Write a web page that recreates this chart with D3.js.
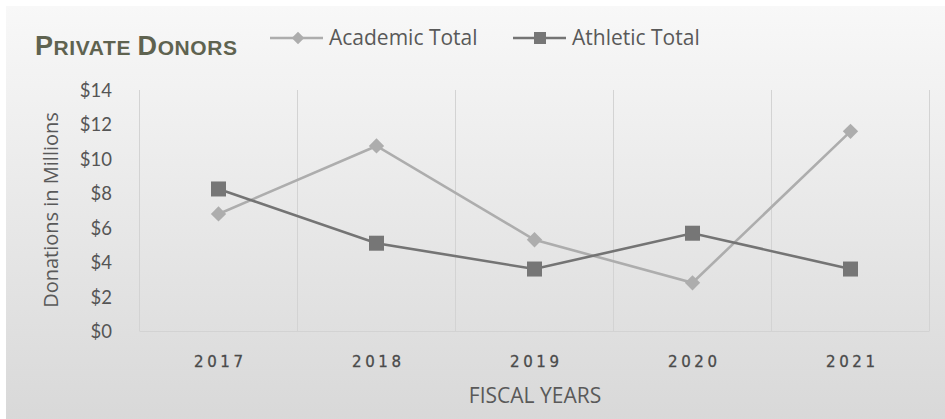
<!DOCTYPE html>
<html><head><meta charset="utf-8">
<script src="https://cdn.jsdelivr.net/npm/d3@7"></script>
<style>body{margin:0;background:#fff}svg{display:block}</style>
</head><body>
<svg id="c" width="945" height="419"></svg>
<script>
const years = ["2017","2018","2019","2020","2021"];
const academic = [6.8, 10.75, 5.3, 2.8, 11.6];
const athletic = [8.25, 5.1, 3.6, 5.68, 3.6];
const yTicks = [0,2,4,6,8,10,12,14];

const svg = d3.select("#c");
const defs = svg.append("defs");
const g = defs.append("linearGradient").attr("id","bg").attr("x1",0).attr("y1",0).attr("x2",0).attr("y2",1);
g.append("stop").attr("offset","0%").attr("stop-color","#f8f8f8");
g.append("stop").attr("offset","100%").attr("stop-color","#d8d8d8");
svg.append("rect").attr("x",6).attr("y",6).attr("width",945).attr("height",420).attr("fill","url(#bg)");

const x = d3.scaleBand().domain(years).range([139.5,929.5]);
const y = d3.scaleLinear().domain([0,14]).range([331,90]);

// vertical gridlines at band boundaries
const bounds = years.map(d=>x(d)).concat([x.range()[1]]);
svg.append("g").selectAll("line").data(bounds).join("line")
  .attr("x1",d=>d).attr("x2",d=>d).attr("y1",y(14)).attr("y2",y(0))
  .attr("stroke","#d3d3d3").attr("stroke-width",1);
svg.append("line").attr("x1",x.range()[0]).attr("x2",x.range()[1]).attr("y1",y(0)+0.5).attr("y2",y(0)+0.5)
  .attr("stroke","#d3d3d3");

// y axis labels
const yAxis = d3.axisLeft(y).tickValues(yTicks).tickFormat(d=>"$"+d).tickSize(0).tickPadding(0);
const ya = svg.append("g").attr("transform","translate(112,0)").call(yAxis);
ya.select(".domain").remove();
ya.selectAll("text").attr("font-family","Lato").attr("font-size",18.5).attr("fill","#555").attr("dy","0.35em");

// x axis labels
const xAxis = d3.axisBottom(x).tickSize(0).tickPadding(0);
const xa = svg.append("g").attr("transform","translate(0,362)").call(xAxis);
xa.select(".domain").remove();
xa.selectAll("text").attr("font-family","DejaVu Sans").attr("font-size",15)
  .attr("letter-spacing","3.6px").attr("fill","#4a4a4a").attr("stroke","#4a4a4a").attr("stroke-width",0.3)
  .attr("dy","0.35em").attr("dx","1.8px");

const cx = d => x(d) + x.bandwidth()/2;
const line = d3.line().x((d,i)=>cx(years[i])).y(d=>y(d));

// Academic
svg.append("path").datum(academic).attr("d",line).attr("fill","none").attr("stroke","#adadad").attr("stroke-width",2.6);
svg.append("g").selectAll("path").data(academic).join("path")
  .attr("d",d3.symbol().type(d3.symbolDiamond2).size(150))
  .attr("transform",(d,i)=>`translate(${cx(years[i])},${y(d)})`)
  .attr("fill","#adadad");
// Athletic
svg.append("path").datum(athletic).attr("d",line).attr("fill","none").attr("stroke","#747474").attr("stroke-width",2.6);
svg.append("g").selectAll("rect").data(athletic).join("rect")
  .attr("x",(d,i)=>cx(years[i])-7.5).attr("y",d=>y(d)-7.5).attr("width",15).attr("height",15)
  .attr("fill","#767676");

// Title
const t = svg.append("text").attr("x",35).attr("y",55).attr("font-family","Liberation Sans").attr("font-weight","bold")
  .attr("fill","#5f6350").attr("letter-spacing","0.6px");
t.append("tspan").attr("font-size",27).text("P");
t.append("tspan").attr("font-size",21).text("RIVATE ");
t.append("tspan").attr("font-size",27).text("D");
t.append("tspan").attr("font-size",21).text("ONORS");

// Legend
const lg = svg.append("g");
lg.append("line").attr("x1",270).attr("x2",323).attr("y1",38).attr("y2",38).attr("stroke","#adadad").attr("stroke-width",2.6);
lg.append("path").attr("d",d3.symbol().type(d3.symbolDiamond2).size(100)).attr("transform","translate(298,38)").attr("fill","#adadad");
lg.append("text").attr("x",329).attr("y",38).attr("dy","0.35em").attr("font-family","Open Sans").attr("font-size",21).attr("fill","#595959").text("Academic Total");
lg.append("line").attr("x1",513).attr("x2",566).attr("y1",38).attr("y2",38).attr("stroke","#747474").attr("stroke-width",2.6);
lg.append("rect").attr("x",534).attr("y",32).attr("width",12).attr("height",12).attr("fill","#767676");
lg.append("text").attr("x",572).attr("y",38).attr("dy","0.35em").attr("font-family","Open Sans").attr("font-size",21).attr("fill","#595959").text("Athletic Total");

// axis titles
svg.append("text").attr("transform","translate(51,210) rotate(-90)").attr("text-anchor","middle").attr("dy","0.35em")
  .attr("font-family","Open Sans").attr("font-size",20).attr("fill","#595959").text("Donations in Millions");
svg.append("text").attr("x",535).attr("y",396).attr("text-anchor","middle").attr("dy","0.35em")
  .attr("font-family","Open Sans").attr("font-size",21).attr("fill","#595959").text("FISCAL YEARS");
</script>
</body></html>
